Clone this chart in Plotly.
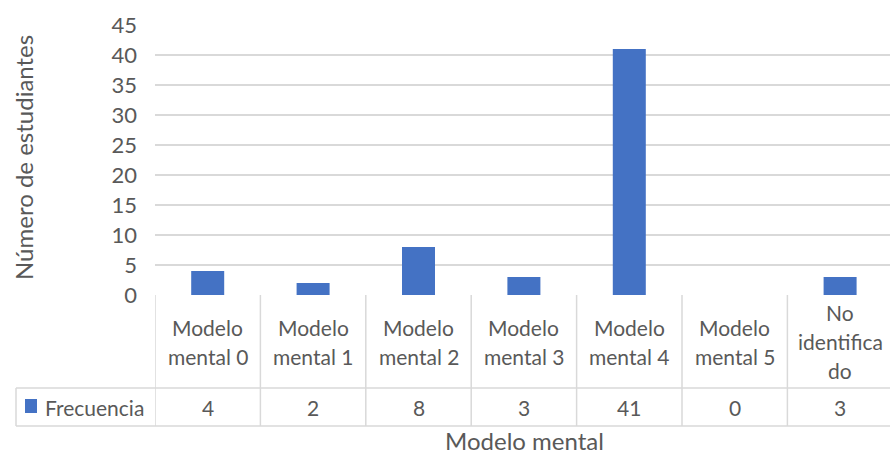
import plotly.graph_objects as go

categories = ["Modelo mental 0", "Modelo mental 1", "Modelo mental 2", "Modelo mental 3",
              "Modelo mental 4", "Modelo mental 5", "No identificado"]
header_labels = ["Modelo<br>mental 0", "Modelo<br>mental 1", "Modelo<br>mental 2", "Modelo<br>mental 3",
                 "Modelo<br>mental 4", "Modelo<br>mental 5", "No<br>identifica<br>do"]
frecuencia = [4, 2, 8, 3, 41, 0, 3]
series_name = "Frecuencia"
y_title = "Número de estudiantes"
x_title = "Modelo mental"

W, H = 890, 457
L, R, T, B = 155, 0, 25, 162
PW, PH = W - L - R, H - T - B
TXT = "#595959"
GRID = "#d9d9d9"
BAR = "#4472C4"
FONT = "Lato"
FS = 21

def px_x(px):
    return (px - L) / PW

def px_y(py):
    return (H - B - py) / PH

n = len(categories)
fig = go.Figure()
fig.add_trace(go.Bar(x=list(range(n)), y=frecuencia, marker=dict(color=BAR, line=dict(width=0)),
                     width=0.313, name=series_name, showlegend=False))

shapes = []
row1 = px_y(388)
row2 = px_y(426)
for i in range(n + 1):
    shapes.append(dict(type="line", xref="x", yref="paper", x0=i - 0.5, x1=i - 0.5,
                       y0=0, y1=row2, line=dict(color=GRID, width=1.5)))
for yy in (row1, row2):
    shapes.append(dict(type="line", xref="paper", yref="paper", x0=px_x(16), x1=1.02,
                       y0=yy, y1=yy, line=dict(color=GRID, width=1.5)))
shapes.append(dict(type="line", xref="paper", yref="paper", x0=px_x(16), x1=px_x(16),
                   y0=row1, y1=row2, line=dict(color=GRID, width=1.5)))
shapes.append(dict(type="rect", xref="paper", yref="paper", x0=px_x(25), x1=px_x(37),
                   y0=px_y(413), y1=px_y(399), fillcolor=BAR, line=dict(width=0)))

ann = []
hdr_center = (295 + 388) / 2
line_gap = 29
val_mid = px_y(407)
for i in range(n):
    lines = header_labels[i].split("<br>")
    k = len(lines)
    for j, t in enumerate(lines):
        py = hdr_center + (j - (k - 1) / 2) * line_gap
        ann.append(dict(x=i, y=px_y(py), xref="x", yref="paper", text=t, showarrow=False,
                        font=dict(family=FONT, size=FS, color=TXT), xanchor="center", yanchor="middle"))
    ann.append(dict(x=i, y=val_mid, xref="x", yref="paper", text=str(frecuencia[i]), showarrow=False,
                    font=dict(family=FONT, size=FS, color=TXT), xanchor="center", yanchor="middle"))
ann.append(dict(x=px_x(43), y=val_mid, xref="paper", yref="paper", text=series_name, showarrow=False,
                font=dict(family=FONT, size=FS, color=TXT), xanchor="left", yanchor="middle"))
ann.append(dict(x=px_x(524), y=px_y(457), xref="paper", yref="paper", text=x_title, showarrow=False,
                font=dict(family=FONT, size=24, color=TXT), xanchor="center", yanchor="bottom"))
ann.append(dict(x=px_x(23), y=px_y(158), xref="paper", yref="paper", text=y_title, showarrow=False,
                textangle=-90, font=dict(family=FONT, size=24, color=TXT),
                xanchor="center", yanchor="middle"))

fig.update_layout(
    width=W, height=H, autosize=False,
    margin=dict(l=L, r=R, t=T, b=B),
    paper_bgcolor="white", plot_bgcolor="white",
    font=dict(family=FONT, size=FS, color=TXT),
    xaxis=dict(range=[-0.5, -0.5 + PW / 105.4], showticklabels=False, showgrid=False,
               zeroline=False, showline=False, fixedrange=True),
    yaxis=dict(range=[0, 45], dtick=5, showgrid=True, gridcolor=GRID, gridwidth=1.5,
               zeroline=False, showline=False, ticks="", ticklabelstandoff=17,
               tickfont=dict(family=FONT, size=FS + 1, color=TXT)),
    shapes=shapes, annotations=ann, showlegend=False,
)

fig.write_html("out.html")
